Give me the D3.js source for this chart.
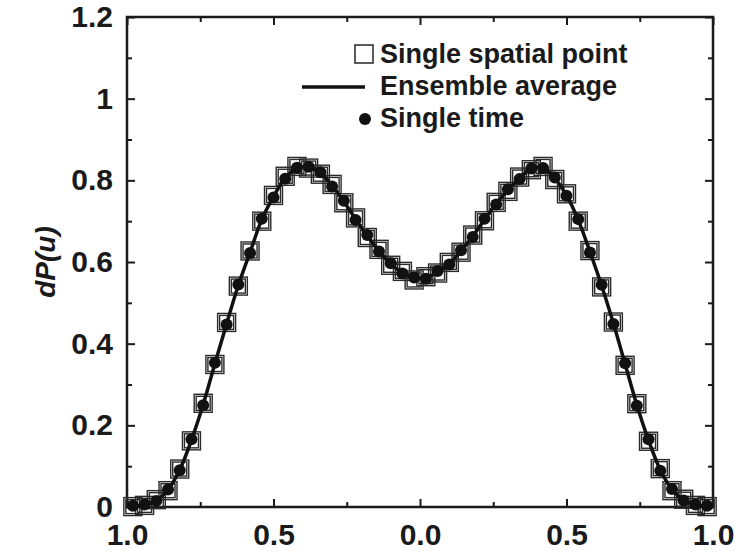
<!DOCTYPE html>
<html>
<head>
<meta charset="utf-8">
<script src="https://cdn.jsdelivr.net/npm/d3@7"></script>
<style>
  body { margin: 0; background: #fff; }
  text { font-family: "Liberation Sans", Arial, Helvetica, sans-serif; font-weight: bold; fill: #1a1a1a; }
</style>
</head>
<body>
<script>
// bin centres of u
var uVals = [-0.98,-0.94,-0.90,-0.86,-0.82,-0.78,-0.74,-0.70,-0.66,-0.62,-0.58,-0.54,-0.50,-0.46,-0.42,-0.38,-0.34,-0.30,-0.26,-0.22,-0.18,-0.14,-0.10,-0.06,-0.02,
             0.02,0.06,0.10,0.14,0.18,0.22,0.26,0.30,0.34,0.38,0.42,0.46,0.50,0.54,0.58,0.62,0.66,0.70,0.74,0.78,0.82,0.86,0.90,0.94,0.98];

var spatialPoint = [0.001,0.004,0.018,0.040,0.093,0.162,0.254,0.349,0.452,0.541,0.627,0.700,0.763,0.810,0.834,0.830,0.815,0.790,0.745,0.708,0.660,0.631,0.592,0.577,0.556,
                    0.564,0.573,0.599,0.624,0.666,0.701,0.746,0.773,0.808,0.826,0.834,0.802,0.767,0.700,0.628,0.539,0.453,0.347,0.253,0.161,0.094,0.040,0.019,0.004,0.001];

var ensembleAvg = [0.002,0.005,0.016,0.042,0.091,0.164,0.251,0.351,0.449,0.543,0.624,0.704,0.760,0.806,0.830,0.832,0.818,0.787,0.748,0.705,0.664,0.628,0.595,0.574,0.560,
                   0.561,0.576,0.596,0.627,0.663,0.704,0.743,0.776,0.805,0.828,0.831,0.805,0.764,0.703,0.625,0.542,0.450,0.350,0.250,0.164,0.091,0.043,0.017,0.005,0.002];

var singleTime = [0.003,0.006,0.015,0.043,0.090,0.166,0.249,0.353,0.447,0.545,0.622,0.706,0.758,0.804,0.831,0.833,0.820,0.785,0.750,0.703,0.666,0.626,0.597,0.572,0.562,
                  0.559,0.578,0.594,0.629,0.661,0.706,0.741,0.778,0.803,0.829,0.830,0.807,0.762,0.705,0.623,0.544,0.448,0.352,0.248,0.166,0.089,0.044,0.016,0.006,0.003];

var xTicks = [-1, -0.5, 0, 0.5, 1];
var xTickLabels = ["1.0", "0.5", "0.0", "0.5", "1.0"];
var xMinor = [-0.75, -0.25, 0.25, 0.75];
var yTicks = [0, 0.2, 0.4, 0.6, 0.8, 1, 1.2];
var yTickLabels = ["0", "0.2", "0.4", "0.6", "0.8", "1", "1.2"];
var yMinor = [0.1, 0.3, 0.5, 0.7, 0.9, 1.1];
var legendLabels = ["Single spatial point", "Ensemble average", "Single time"];

var totalWidth = 740;
var totalHeight = 554;
var pLeft = 127, pRight = 713, pTop = 17, pBottom = 507;

var svg = d3.select("body")
    .append("svg")
    .attr("width", totalWidth)
    .attr("height", totalHeight);

var x = d3.scaleLinear().domain([-1, 1]).range([pLeft, pRight]);
var y = d3.scaleLinear().domain([0, 1.2]).range([pBottom, pTop]);

function styleAxis(g) {
  g.select(".domain").remove();
  g.selectAll(".tick line").attr("stroke", "#1a1a1a").attr("stroke-width", 2);
  g.selectAll(".tick text").attr("font-size", 30).attr("fill", "#1a1a1a")
   .style("font-family", "'Liberation Sans', Arial, sans-serif").style("font-weight", "bold");
}

// bottom axis, ticks inward
svg.append("g")
   .attr("transform", "translate(0," + pBottom + ")")
   .call(d3.axisBottom(x).tickValues(xTicks).tickSize(-8).tickPadding(17)
         .tickFormat(function(d, i) { return xTickLabels[i]; }))
   .call(styleAxis);
svg.append("g")
   .attr("transform", "translate(0," + pBottom + ")")
   .call(d3.axisBottom(x).tickValues(xMinor).tickSize(-5).tickFormat(""))
   .call(styleAxis);
// top axis
svg.append("g")
   .attr("transform", "translate(0," + pTop + ")")
   .call(d3.axisTop(x).tickValues(xTicks).tickSize(-8).tickFormat(""))
   .call(styleAxis);
svg.append("g")
   .attr("transform", "translate(0," + pTop + ")")
   .call(d3.axisTop(x).tickValues(xMinor).tickSize(-5).tickFormat(""))
   .call(styleAxis);
// left axis
svg.append("g")
   .attr("transform", "translate(" + pLeft + ",0)")
   .call(d3.axisLeft(y).tickValues(yTicks).tickSize(-8).tickPadding(14)
         .tickFormat(function(d, i) { return yTickLabels[i]; }))
   .call(styleAxis);
svg.append("g")
   .attr("transform", "translate(" + pLeft + ",0)")
   .call(d3.axisLeft(y).tickValues(yMinor).tickSize(-5).tickFormat(""))
   .call(styleAxis);
// right axis
svg.append("g")
   .attr("transform", "translate(" + pRight + ",0)")
   .call(d3.axisRight(y).tickValues(yTicks).tickSize(-8).tickFormat(""))
   .call(styleAxis);
svg.append("g")
   .attr("transform", "translate(" + pRight + ",0)")
   .call(d3.axisRight(y).tickValues(yMinor).tickSize(-5).tickFormat(""))
   .call(styleAxis);

// frame
svg.append("rect")
   .attr("x", pLeft).attr("y", pTop)
   .attr("width", pRight - pLeft).attr("height", pBottom - pTop)
   .attr("fill", "none")
   .attr("stroke", "#1a1a1a")
   .attr("stroke-width", 2.5);

// y label
svg.append("text")
   .attr("transform", "translate(55," + ((pTop + pBottom) / 2) + ") rotate(-90)")
   .attr("text-anchor", "middle")
   .attr("font-size", 28)
   .style("font-style", "italic")
   .text("dP(u)");

// squares (single spatial point)
var sq = svg.append("g");
[18, 14].forEach(function(s) {
  sq.selectAll(null)
    .data(uVals)
    .enter()
    .append("rect")
    .attr("x", function(d) { return x(d) - s / 2; })
    .attr("y", function(d, i) { return y(spatialPoint[i]) - s / 2; })
    .attr("width", s)
    .attr("height", s)
    .attr("fill", "none")
    .attr("stroke", "#2a2a2a")
    .attr("stroke-width", 1.4);
});

// ensemble average line
var line = d3.line()
   .x(function(d) { return x(d); })
   .y(function(d, i) { return y(ensembleAvg[i]); })
   .curve(d3.curveCatmullRom);

svg.append("path")
   .datum(uVals)
   .attr("d", line)
   .attr("fill", "none")
   .attr("stroke", "#111")
   .attr("stroke-width", 3.5);

// single time dots
svg.selectAll("circle.st")
   .data(uVals)
   .enter()
   .append("circle")
   .attr("class", "st")
   .attr("cx", function(d) { return x(d); })
   .attr("cy", function(d, i) { return y(singleTime[i]); })
   .attr("r", 6)
   .attr("fill", "#111");

// legend
var lg = svg.append("g");
lg.append("rect")
  .attr("x", 355).attr("y", 45).attr("width", 18).attr("height", 18)
  .attr("fill", "none").attr("stroke", "#333").attr("stroke-width", 1.6);
lg.append("line")
  .attr("x1", 302).attr("x2", 365).attr("y1", 87).attr("y2", 87)
  .attr("stroke", "#111").attr("stroke-width", 3.5);
lg.append("circle")
  .attr("cx", 365).attr("cy", 119).attr("r", 6)
  .attr("fill", "#111");
lg.selectAll("text")
  .data(legendLabels)
  .enter()
  .append("text")
  .attr("x", 380)
  .attr("y", function(d, i) { return 63 + i * 32; })
  .attr("font-size", 27)
  .text(function(d) { return d; });
</script>
</body>
</html>
